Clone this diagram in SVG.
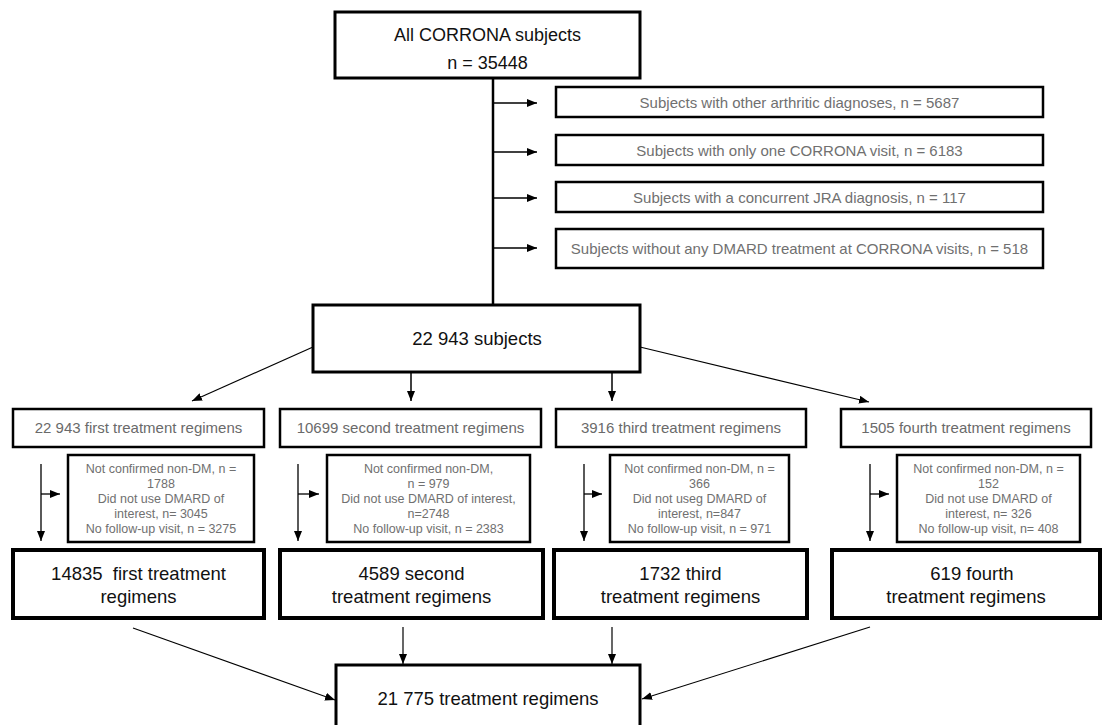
<svg xmlns="http://www.w3.org/2000/svg" width="1104" height="725" viewBox="0 0 1104 725">
<defs>
<marker id="ah" markerUnits="userSpaceOnUse" markerWidth="10" markerHeight="8" refX="10" refY="4" orient="auto">
<path d="M0,0 L10,4 L0,8 Z" fill="#000"/>
</marker>
<style>
text{font-family:"Liberation Sans",Arial,sans-serif;text-anchor:middle}
.box{fill:#fff;stroke:#000}
.b3{stroke-width:3}
.b25{stroke-width:2.5}
.b4{stroke-width:4}
.big{font-size:18px;fill:#111}
.ex{font-size:15px;fill:#707070}
.tr{font-size:15px;fill:#6a6a6a}
.sm{font-size:12.5px;fill:#707070}
.res{font-size:18.5px;fill:#111;white-space:pre}
.ln{stroke:#000;fill:none}
</style>
</defs>
<rect width="1104" height="725" fill="#fff"/>
<g id="connectors">
<line class="ln" x1="493" y1="78" x2="493" y2="305" stroke-width="2.5"/>
<line class="ln" x1="493" y1="103" x2="537" y2="103" stroke-width="1.5" marker-end="url(#ah)"/>
<line class="ln" x1="493" y1="152" x2="537" y2="152" stroke-width="1.5" marker-end="url(#ah)"/>
<line class="ln" x1="493" y1="198" x2="537" y2="198" stroke-width="1.5" marker-end="url(#ah)"/>
<line class="ln" x1="493" y1="248" x2="537" y2="248" stroke-width="1.5" marker-end="url(#ah)"/>
<line class="ln" x1="313" y1="347" x2="192" y2="401" stroke-width="1.2" marker-end="url(#ah)"/>
<line class="ln" x1="411" y1="372" x2="411" y2="401" stroke-width="1.5" marker-end="url(#ah)"/>
<line class="ln" x1="612" y1="372" x2="612" y2="401" stroke-width="1.5" marker-end="url(#ah)"/>
<line class="ln" x1="640" y1="347" x2="869" y2="402" stroke-width="1.2" marker-end="url(#ah)"/>
<line class="ln" x1="41" y1="464" x2="41" y2="541" stroke-width="1.3" marker-end="url(#ah)"/>
<line class="ln" x1="41" y1="494" x2="60" y2="494" stroke-width="1.3" marker-end="url(#ah)"/>
<line class="ln" x1="298" y1="464" x2="298" y2="541" stroke-width="1.3" marker-end="url(#ah)"/>
<line class="ln" x1="298" y1="494" x2="319" y2="494" stroke-width="1.3" marker-end="url(#ah)"/>
<line class="ln" x1="584" y1="464" x2="584" y2="541" stroke-width="1.3" marker-end="url(#ah)"/>
<line class="ln" x1="584" y1="494" x2="602" y2="494" stroke-width="1.3" marker-end="url(#ah)"/>
<line class="ln" x1="870" y1="464" x2="870" y2="541" stroke-width="1.3" marker-end="url(#ah)"/>
<line class="ln" x1="870" y1="494" x2="889" y2="494" stroke-width="1.3" marker-end="url(#ah)"/>
<line class="ln" x1="133" y1="628" x2="335" y2="700" stroke-width="1.1" marker-end="url(#ah)"/>
<line class="ln" x1="403" y1="627" x2="403" y2="664" stroke-width="1.2" marker-end="url(#ah)"/>
<line class="ln" x1="612" y1="627" x2="612" y2="664" stroke-width="1.2" marker-end="url(#ah)"/>
<line class="ln" x1="870" y1="627" x2="642" y2="699" stroke-width="1.1" marker-end="url(#ah)"/>
</g>
<g id="n_all">
<rect class="box b3" x="335" y="12" width="305" height="66"/>
<text class="big" x="487.5" y="41">All CORRONA subjects</text>
<text class="big" x="487.5" y="69">n = 35448</text>
</g>
<g id="x1">
<rect class="box b25" x="556" y="87" width="487" height="30"/>
<text class="ex" x="799.5" y="107.5">Subjects with other arthritic diagnoses, n = 5687</text>
</g>
<g id="x2">
<rect class="box b25" x="556" y="135" width="487" height="30"/>
<text class="ex" x="799.5" y="155.5">Subjects with only one CORRONA visit, n = 6183</text>
</g>
<g id="x3">
<rect class="box b25" x="556" y="182" width="487" height="30"/>
<text class="ex" x="799.5" y="202.5">Subjects with a concurrent JRA diagnosis, n = 117</text>
</g>
<g id="x4">
<rect class="box b25" x="556" y="229" width="487" height="39"/>
<text class="ex" x="799.5" y="254">Subjects without any DMARD treatment at CORRONA visits, n = 518</text>
</g>
<g id="n_subj">
<rect class="box b3" x="313" y="305" width="327" height="67"/>
<text class="big" x="477" y="345" style="font-size:18.5px">22 943 subjects</text>
</g>
<g id="t1">
<rect class="box b25" x="13" y="409" width="251" height="38"/>
<text class="tr" x="138.5" y="433">22 943 first treatment regimens</text>
</g>
<g id="t2">
<rect class="box b25" x="280" y="409" width="261" height="38"/>
<text class="tr" x="410.5" y="433">10699 second treatment regimens</text>
</g>
<g id="t3">
<rect class="box b25" x="556" y="409" width="250" height="38"/>
<text class="tr" x="681" y="433">3916 third treatment regimens</text>
</g>
<g id="t4">
<rect class="box b25" x="841" y="409" width="250" height="38"/>
<text class="tr" x="966" y="433">1505 fourth treatment regimens</text>
</g>
<g id="e1">
<rect class="box b25" x="68" y="455" width="186" height="87"/>
<text class="sm" x="161" y="473">Not confirmed non-DM, n =</text>
<text class="sm" x="161" y="488">1788</text>
<text class="sm" x="161" y="503">Did not use DMARD of</text>
<text class="sm" x="161" y="518">interest, n= 3045</text>
<text class="sm" x="161" y="533">No follow-up visit, n = 3275</text>
</g>
<g id="e2">
<rect class="box b25" x="327" y="455" width="203" height="87"/>
<text class="sm" x="428.5" y="473">Not confirmed non-DM,</text>
<text class="sm" x="428.5" y="488">n = 979</text>
<text class="sm" x="428.5" y="503">Did not use DMARD of interest,</text>
<text class="sm" x="428.5" y="518">n=2748</text>
<text class="sm" x="428.5" y="533">No follow-up visit, n = 2383</text>
</g>
<g id="e3">
<rect class="box b25" x="610" y="455" width="179" height="87"/>
<text class="sm" x="699.5" y="473">Not confirmed non-DM, n =</text>
<text class="sm" x="699.5" y="488">366</text>
<text class="sm" x="699.5" y="503">Did not useg DMARD of</text>
<text class="sm" x="699.5" y="518">interest, n=847</text>
<text class="sm" x="699.5" y="533">No follow-up visit, n = 971</text>
</g>
<g id="e4">
<rect class="box b25" x="897" y="455" width="183" height="87"/>
<text class="sm" x="988.5" y="473">Not confirmed non-DM, n =</text>
<text class="sm" x="988.5" y="488">152</text>
<text class="sm" x="988.5" y="503">Did not use DMARD of</text>
<text class="sm" x="988.5" y="518">interest, n= 326</text>
<text class="sm" x="988.5" y="533">No follow-up visit, n= 408</text>
</g>
<g id="r1">
<rect class="box b4" x="13" y="550" width="251" height="68"/>
<text class="res" x="138.5" y="580">14835  first treatment</text>
<text class="res" x="138.5" y="603">regimens</text>
</g>
<g id="r2">
<rect class="box b4" x="280" y="550" width="263" height="68"/>
<text class="res" x="411.5" y="580">4589 second</text>
<text class="res" x="411.5" y="603">treatment regimens</text>
</g>
<g id="r3">
<rect class="box b4" x="554" y="550" width="253" height="68"/>
<text class="res" x="680.5" y="580">1732 third</text>
<text class="res" x="680.5" y="603">treatment regimens</text>
</g>
<g id="r4">
<rect class="box b4" x="832" y="550" width="268" height="68"/>
<text class="res" x="972" y="580">619 fourth</text>
<text class="res" x="966" y="603">treatment regimens</text>
</g>
<g id="n_total">
<rect class="box b3" x="336" y="665" width="304" height="70"/>
<text class="res" x="488" y="705">21 775 treatment regimens</text>
</g>
</svg>
